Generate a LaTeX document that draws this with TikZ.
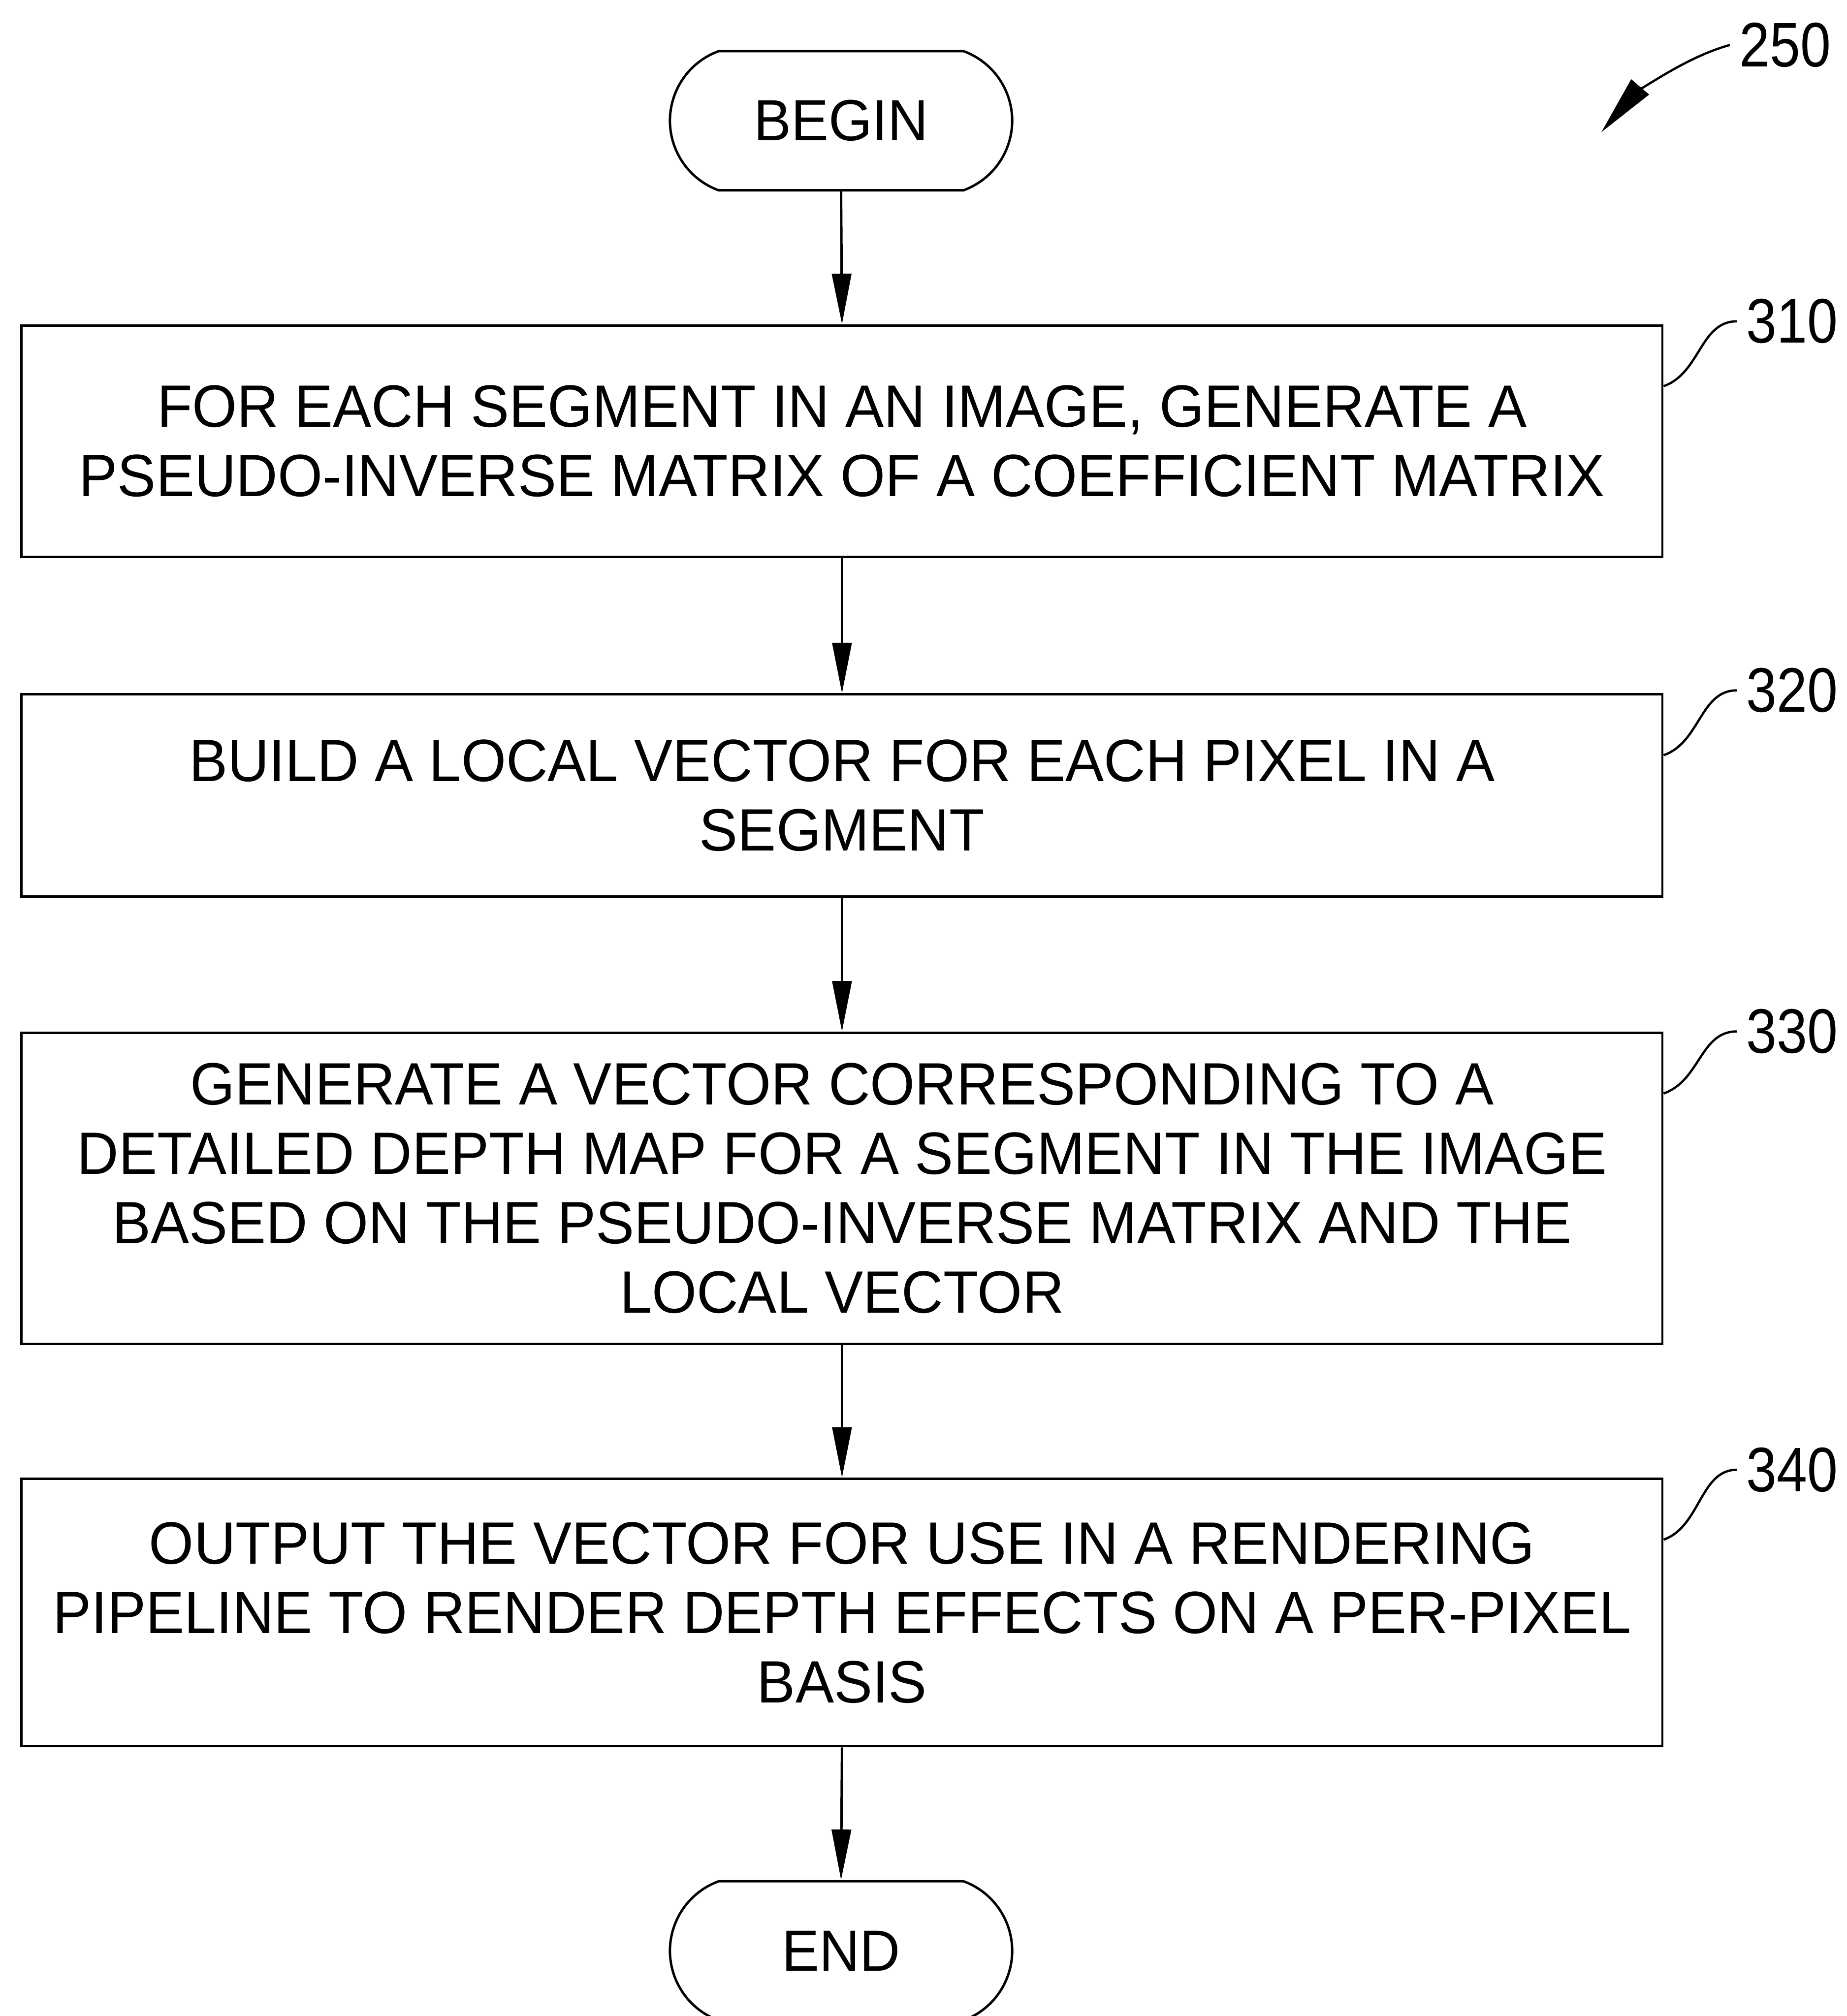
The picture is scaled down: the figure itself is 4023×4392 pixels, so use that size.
\documentclass[tikz,border=0pt]{standalone}
\usepackage{fontspec}
\setmainfont{Liberation Sans}
\newfontfamily\stepfont[FakeStretch=0.965]{Liberation Sans}
\newfontfamily\reffont[FakeStretch=0.87]{Liberation Sans}
\usetikzlibrary{arrows.meta,calc,shapes.misc}

\begin{document}
\begin{tikzpicture}[x=0.01cm,y=-0.01cm,
  stepbox/.style={draw, line width=1.5pt, inner sep=0pt, minimum width=35.72cm,
    align=center, font=\stepfont\fontsize{37}{43}\selectfont},
  terminal/.style={draw, line width=1.5pt, rounded rectangle, rounded rectangle arc length=140,
    inner sep=0pt, minimum width=7.45cm, minimum height=3.03cm,
    font=\stepfont\fontsize{36}{43}\selectfont},
  flow/.style={line width=1.5pt, -{Triangle[length=1.1cm,width=0.42cm]}},
  refnum/.style={anchor=west, inner xsep=0.2cm, inner ysep=0pt, font=\reffont\fontsize{39}{43}\selectfont},
  leader/.style={line width=1.4pt},
]
\useasboundingbox (0,0) rectangle (4023,4392);
\clip (0,0) rectangle (4023,4392);

% terminals
\node[terminal] (begin) at (1832,263) {BEGIN};
\node[terminal] (end) at (1832,4250) {END};

% process steps
\node[stepbox, minimum height=5.04cm] (b310) at (1834,961)
  {FOR EACH SEGMENT IN AN IMAGE, GENERATE A\\PSEUDO-INVERSE MATRIX OF A COEFFICIENT MATRIX};
\node[stepbox, minimum height=4.40cm] (b320) at (1834,1733)
  {BUILD A LOCAL VECTOR FOR EACH PIXEL IN A\\SEGMENT};
\node[stepbox, minimum height=6.78cm] (b330) at (1834,2589)
  {GENERATE A VECTOR CORRESPONDING TO A\\DETAILED DEPTH MAP FOR A SEGMENT IN THE IMAGE\\BASED ON THE PSEUDO-INVERSE MATRIX AND THE\\LOCAL VECTOR};
\node[stepbox, minimum height=5.82cm] (b340) at (1834,3513)
  {OUTPUT THE VECTOR FOR USE IN A RENDERING\\PIPELINE TO RENDER DEPTH EFFECTS ON A PER-PIXEL\\BASIS};

% flow arrows
\draw[flow] (begin.south) -- (b310.north);
\draw[flow] (b310.south) -- (b320.north);
\draw[flow] (b320.south) -- (b330.north);
\draw[flow] (b330.south) -- (b340.north);
\draw[flow] (b340.south) -- (end.north);

% reference numerals
\node[refnum] (l250) at (3768,98) {250};
\node[refnum] (l310) at (3783,700) {310};
\node[refnum] (l320) at (3783,1504) {320};
\node[refnum] (l330) at (3783,2247) {330};
\node[refnum] (l340) at (3783,3202) {340};

\coordinate (t250) at (3488,288);
\draw[line width=1.4pt, -{Triangle[length=1.3cm,width=0.5cm]}]
  (l250.west) .. controls +(-110,30) and +(60,-70) .. (t250);

\foreach \n in {310,320,330,340}{
  \draw[leader] ($(b\n.north east)+(0,135)$) .. controls +(80,-28) and +(-80,0) .. (l\n.west);
}
\end{tikzpicture}
\end{document}
